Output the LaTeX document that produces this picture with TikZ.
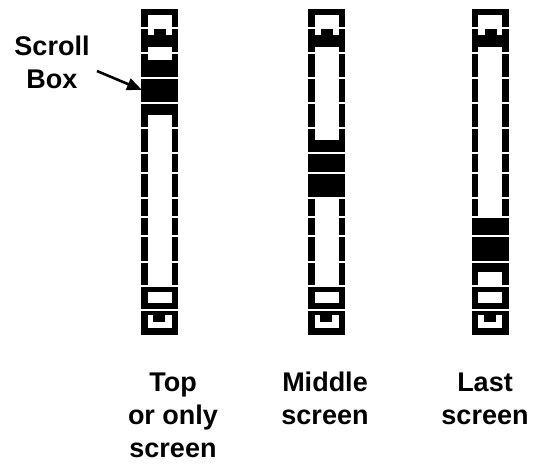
\documentclass[tikz,border=0pt]{standalone}
\usepackage{fontspec}
\setmainfont{Liberation Sans}
\usetikzlibrary{arrows.meta}
\tikzset{
  lbl/.style={font=\bfseries\fontsize{27}{33}\selectfont, align=center, inner sep=0pt, anchor=base},
  blk/.style={fill=black, draw=none},
  gap/.style={draw=white, line width=1.3pt},
  ptr/.style={line width=2.6pt, -{Triangle[length=15pt,width=12pt]}}
}
% #1 left x, #2 box top, #3 box bottom
\newcommand{\scrollbarAt}[3]{%
  \begin{scope}[xshift=#1pt]
    % rails
    \fill[blk] (0,10) rectangle (6.5,335);
    \fill[blk] (30.5,10) rectangle (37,335);
    % top cap
    \fill[blk] (0,9) rectangle (37,15);
    % up arrow
    \fill[blk] (13,29) rectangle (25,36);
    \fill[blk] (6.5,35) rectangle (30.5,47);
    % scroll box
    \fill[blk] (0,#2) rectangle (37,#3);
    % down arrow box
    \fill[blk] (6.5,286) rectangle (30.5,292);
    \fill[blk] (6.5,303) rectangle (30.5,310);
    % bottom cap
    \fill[blk] (6.5,310) rectangle (30.5,315);
    \fill[blk] (12,315) rectangle (24,322);
    \fill[blk] (0,328) rectangle (37,335);
    % segment gaps
    \foreach \g in {28,53,78,103,128,153,173,198,217,236,262,286,310}
      \draw[gap] (-1,\g) -- (38,\g);
  \end{scope}}
\begin{document}
\begin{tikzpicture}[x=1pt,y=-1pt]
  \useasboundingbox (0,0) rectangle (534,464);
  \scrollbarAt{141}{60}{115}
  \scrollbarAt{308}{140}{197}
  \scrollbarAt{471.5}{217}{272}
  \node[lbl] (sb) at (52,88) {Scroll\\Box};
  \coordinate (sbfrom) at (97,71);
  \coordinate (sbto) at (142,90);
  \draw[ptr] (sbfrom) -- (sbto);
  \node[lbl] (top) at (173,457) {Top\\or only\\screen};
  \node[lbl] (mid) at (325,424) {Middle\\screen};
  \node[lbl] (last) at (485,424) {Last\\screen};
\end{tikzpicture}
\end{document}
